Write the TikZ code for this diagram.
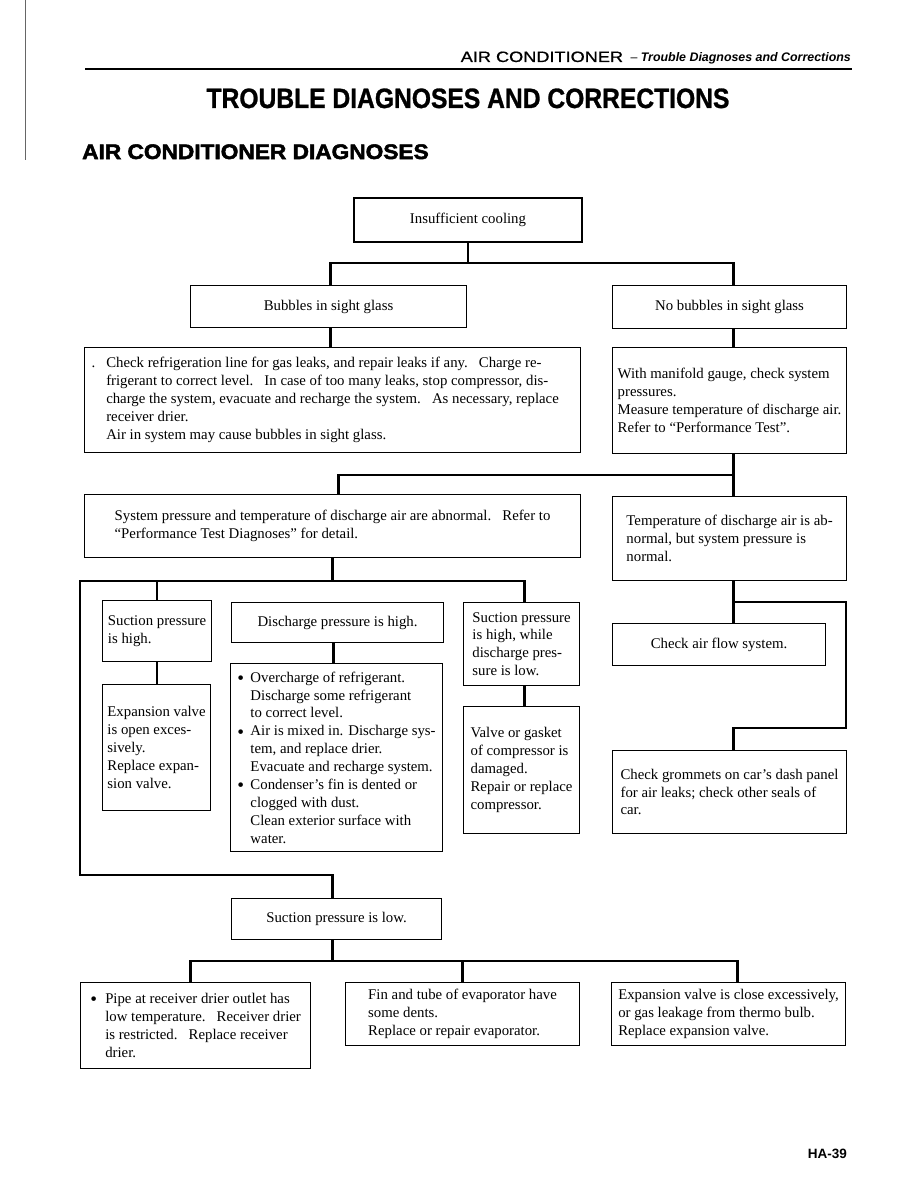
\documentclass[tikz,border=0pt]{standalone}
\usepackage{fontspec}
\setmainfont{Liberation Serif}
\setsansfont{Liberation Sans}
\newfontfamily\headfont[FakeStretch=1.21, FakeBold=0.8]{Liberation Sans}
\newfontfamily\titlefont[FakeStretch=0.88, FakeBold=1]{Liberation Sans Bold}
\newfontfamily\heavyfont[FakeStretch=1.08, FakeBold=2.4]{Liberation Sans Bold}
\usetikzlibrary{positioning}

\newcommand\itembul[1]{\makebox[#1][l]{\raisebox{-2.2pt}{\scalebox{1.3}{\textbullet}}}}

\tikzset{
  box/.style={draw, line width=1.1pt, anchor=north west, inner sep=0pt, align=left,
    font=\fontsize{14.8}{17.9}\selectfont},
  link/.style={line width=2.7pt},
}

\begin{document}
\begin{tikzpicture}[x=1pt, y=-1pt]
  \useasboundingbox (0,0) rectangle (918,1188);

  % page head
  \draw[line width=0.5pt, black!60] (25,0) -- (25,160);
  \node[anchor=base east, inner sep=0pt, font=\sffamily\fontsize{12.4}{14}\selectfont] (head) at (851,62)
    {{\headfont\fontsize{15}{17}\selectfont AIR CONDITIONER}\hspace{4pt} – \bfseries\itshape Trouble Diagnoses and Corrections};
  \draw[line width=2pt] (85,69) -- (852,69);
  \node[anchor=base, inner sep=0pt, font=\titlefont\fontsize{28}{30}\selectfont] (title) at (468,108)
    {TROUBLE DIAGNOSES AND CORRECTIONS};
  \node[anchor=base west, inner sep=0pt, font=\heavyfont\fontsize{21}{24}\selectfont] (sub) at (82,159)
    {AIR CONDITIONER DIAGNOSES};

  % top of the chart
  \node[box, line width=2pt, minimum width=228pt, minimum height=44pt] (cool) at (353,197) {Insufficient cooling};
  \node[box, minimum width=276pt, minimum height=42pt] (bub) at (190,285) {Bubbles in sight glass};
  \node[box, minimum width=234pt, minimum height=43pt] (nobub) at (612,285) {No bubbles in sight glass};

  \node[box, minimum width=496pt, minimum height=105pt] (leak) at (84,347)
    {\llap{.\hspace{11pt}}Check refrigeration line for gas leaks, and repair leaks if any.\ \ \ Charge re-\\
     frigerant to correct level.\ \ \ In case of too many leaks, stop compressor, dis-\\
     charge the system, evacuate and recharge the system.\ \ \ As necessary, replace\\
     receiver drier.\\
     Air in system may cause bubbles in sight glass.};
  \node[box, minimum width=234pt, minimum height=106pt] (gauge) at (612,347)
    {With manifold gauge, check system\\pressures.\\Measure temperature of discharge air.\\Refer to “Performance Test”.};

  \node[box, minimum width=496pt, minimum height=63pt] (abnorm) at (84,494)
    {System pressure and temperature of discharge air are abnormal.\ \ \ Refer to\\
     “Performance Test Diagnoses” for detail.};
  \node[box, minimum width=234pt, minimum height=84pt] (tempab) at (612,496)
    {Temperature of discharge air is ab-\\normal, but system pressure is\\normal.};

  % pressure abnormal
  \node[box, minimum width=109pt, minimum height=61pt] (suchi) at (102,600) {Suction pressure\\is high.};
  \node[box, minimum width=108pt, minimum height=126pt] (expopen) at (102,684)
    {Expansion valve\\is open exces-\\sively.\\Replace expan-\\sion valve.};
  \node[box, minimum width=212pt, minimum height=40pt] (dischi) at (231,602) {Discharge pressure is high.};
  \node[box, minimum width=212pt, minimum height=188pt] (causes) at (230,663)
    {\itembul{13pt}Overcharge of refrigerant.\\
     \hspace*{13pt}Discharge some refrigerant\\
     \hspace*{13pt}to correct level.\\
     \itembul{13pt}Air is mixed in. Discharge sys-\\
     \hspace*{13pt}tem, and replace drier.\\
     \hspace*{13pt}Evacuate and recharge system.\\
     \itembul{13pt}Condenser’s fin is dented or\\
     \hspace*{13pt}clogged with dust.\\
     \hspace*{13pt}Clean exterior surface with\\
     \hspace*{13pt}water.};
  \node[box, minimum width=116pt, minimum height=83pt] (suchilo) at (463,602)
    {Suction pressure\\is high, while\\discharge pres-\\sure is low.};
  \node[box, minimum width=116pt, minimum height=127pt] (valve) at (463,706)
    {Valve or gasket\\of compressor is\\damaged.\\Repair or replace\\compressor.};

  % pressure normal
  \node[box, minimum width=213pt, minimum height=42pt] (airflow) at (612,623) {Check air flow system.};
  \node[box, minimum width=234pt, minimum height=83pt] (grommet) at (612,750)
    {Check grommets on car’s dash panel\\for air leaks; check other seals of\\car.};

  % suction low
  \node[box, minimum width=210pt, minimum height=41pt] (suclow) at (231,898) {Suction pressure is low.};
  \node[box, minimum width=230pt, minimum height=86pt] (drier) at (80,982)
    {\itembul{15pt}Pipe at receiver drier outlet has\\
     \hspace*{15pt}low temperature.\ \ \ Receiver drier\\
     \hspace*{15pt}is restricted.\ \ \ Replace receiver\\
     \hspace*{15pt}drier.};
  \node[box, minimum width=234pt, minimum height=63pt] (evap) at (345,982)
    {Fin and tube of evaporator have\\some dents.\\Replace or repair evaporator.};
  \node[box, minimum width=234pt, minimum height=63pt] (expclose) at (611,982)
    {Expansion valve is close excessively,\\or gas leakage from thermo bulb.\\Replace expansion valve.};

  \node[anchor=base east, inner sep=0pt, font=\sffamily\bfseries\fontsize{13.5}{15}\selectfont] (pageno) at (847,1158) {HA-39};

  % connectors
  \draw[link] (cool.south) -- ++(0,20) coordinate (j1);
  \draw[link] ([xshift=2pt]bub.north) |- (j1);
  \draw[link] ([xshift=4pt]nobub.north) |- (j1);
  \draw[link] ([xshift=2pt]bub.south) -- ([xshift=2pt]bub.south |- leak.north);
  \draw[link] ([xshift=4pt]nobub.south) -- ([xshift=4pt]nobub.south |- gauge.north);

  \draw[link] ([xshift=4pt]gauge.south) -- coordinate (j2) ([xshift=4pt]gauge.south |- tempab.north);
  \draw[link] ([xshift=6pt]abnorm.north) |- (j2);

  \coordinate (c1) at (80,875);
  \draw[link] (abnorm.south) -- ++(0,23) coordinate (j3);
  \draw[link] (suchi.north) |- (j3);
  \draw[link] ([xshift=3pt]suchilo.north) |- (j3);
  \draw[link] (j3) -| (c1) -| ([xshift=-4pt]suclow.north);
  \draw[link] (suchi.south) -- (suchi.south |- expopen.north);
  \draw[link] ([xshift=-4pt]dischi.south) -- ([xshift=-4pt]dischi.south |- causes.north);
  \draw[link] ([xshift=3pt]suchilo.south) -- ([xshift=3pt]suchilo.south |- valve.north);

  \coordinate (c2) at (846,728);
  \draw[link] ([xshift=4pt]tempab.south) -- coordinate (j4) ([xshift=4pt]tempab.south |- airflow.north);
  \draw[link] (j4) -| (c2) -| ([xshift=4pt]grommet.north);

  \draw[link] ([xshift=-4pt]suclow.south) -- ++(0,21) coordinate (j5);
  \draw[link] ([xshift=-5pt]drier.north) |- (j5);
  \draw[link] (evap.north) |- (j5);
  \draw[link] ([xshift=9pt]expclose.north) |- (j5);
\end{tikzpicture}
\end{document}
